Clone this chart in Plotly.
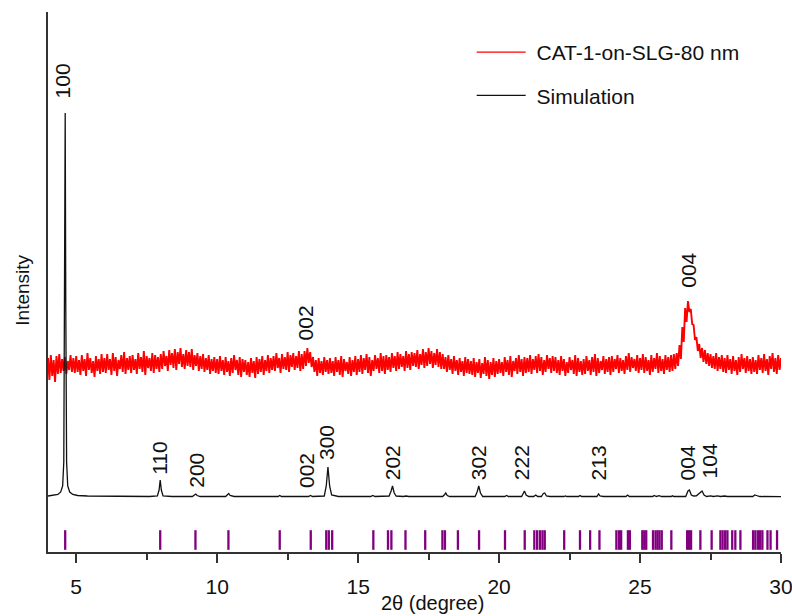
import numpy as np
import plotly.graph_objects as go

# ---------------- data ----------------
# Measured film (CAT-1-on-SLG-80 nm), 4.0-30.0 deg.
# The noisy scan is read as alternating high / low readings:
# red_high at 4.00, 4.10, 4.20 ... and red_low at 4.05, 4.15, 4.25 ... (a.u.)
red_start, red_step = 4.0, 0.1
red_high = [
    194, 197, 192, 196, 198, 193, 195, 191, 197, 194,
    196, 192, 197, 193, 199, 194, 191, 196, 193, 198,
    194, 198, 193, 199, 195, 192, 197, 200, 194, 196,
    197, 193, 199, 195, 201, 196, 194, 199, 197, 195,
    198, 201, 196, 202, 199, 203, 200, 204, 198, 202,
    200, 203, 197, 199, 196, 198, 194, 197, 193, 195,
    193, 196, 192, 195, 191, 194, 197, 192, 195, 193,
    192, 190, 194, 191, 195, 193, 196, 192, 197, 194,
    196, 199, 194, 198, 195, 200, 197, 199, 196, 201,
    198, 201, 204, 200, 195, 192, 194, 191, 195, 192,
    194, 191, 195, 192, 196, 193, 190, 195, 192, 196,
    193, 197, 194, 198, 195, 192, 197, 194, 199, 196,
    197, 195, 199, 196, 200, 198, 196, 201, 198, 200,
    199, 202, 198, 203, 200, 204, 201, 199, 203, 200,
    198, 195, 197, 193, 196, 192, 194, 191, 195, 193,
    191, 194, 190, 193, 189, 195, 192, 190, 194, 191,
    193, 190, 195, 192, 196, 191, 194, 197, 193, 195,
    194, 197, 193, 196, 198, 195, 192, 197, 194, 196,
    195, 192, 196, 193, 190, 195, 192, 197, 194, 191,
    193, 196, 192, 195, 198, 194, 191, 196, 193, 195,
    196, 193, 197, 194, 192, 196, 199, 195, 193, 197,
    194, 198, 195, 192, 197, 194, 199, 196, 193, 197,
    195, 197, 198, 199, 207, 225, 244, 251, 243, 227,
    215, 208, 204, 202, 199, 198, 196, 199, 195, 197,
    194, 197, 193, 196, 192, 195, 198, 194, 196, 193,
    195, 192, 197, 194, 198, 193, 196, 199, 194, 197,
    194,
]
red_low = [
    172, 176, 170, 178, 179, 181, 178, 182, 180, 179,
    180, 177, 181, 176, 182, 179, 175, 181, 178, 180,
    179, 182, 177, 181, 176, 183, 180, 178, 182, 179,
    182, 178, 183, 180, 177, 184, 181, 179, 183, 180,
    183, 186, 181, 187, 184, 182, 188, 185, 183, 186,
    185, 182, 186, 181, 183, 180, 182, 178, 181, 179,
    178, 181, 177, 180, 176, 179, 182, 177, 175, 180,
    177, 175, 179, 174, 178, 180, 177, 181, 179, 182,
    181, 184, 179, 183, 182, 180, 185, 182, 184, 181,
    183, 186, 189, 185, 180, 176, 179, 177, 180, 178,
    179, 176, 180, 177, 175, 181, 178, 176, 180, 177,
    180, 178, 182, 179, 176, 181, 183, 179, 181, 178,
    182, 180, 184, 181, 183, 185, 181, 184, 182, 186,
    185, 183, 187, 184, 186, 188, 184, 187, 185, 183,
    183, 180, 182, 178, 181, 177, 180, 176, 179, 178,
    177, 175, 179, 174, 178, 176, 173, 177, 175, 178,
    179, 176, 180, 177, 175, 181, 178, 180, 176, 179,
    180, 178, 182, 179, 181, 177, 180, 183, 179, 181,
    179, 177, 181, 176, 179, 182, 178, 176, 180, 177,
    178, 181, 177, 180, 176, 179, 182, 178, 180, 177,
    180, 183, 179, 181, 178, 182, 180, 184, 181, 179,
    182, 179, 181, 177, 180, 183, 179, 181, 178, 182,
    180, 181, 183, 186, 193, 210, 230, 240, 228, 212,
    201, 194, 190, 188, 186, 184, 183, 181, 183, 180,
    179, 182, 178, 181, 177, 180, 183, 179, 181, 178,
    180, 178, 182, 179, 181, 177, 183, 180, 178, 182,
    180,
]

# Simulated pattern (a.u.)
sim_x = [4.0, 4.2, 4.35, 4.45, 4.52, 4.56, 4.59, 4.61, 4.63, 4.66, 4.70, 4.77, 4.88, 5.05, 5.4,
         6.5, 7.6, 7.88, 7.94, 7.98, 8.02, 8.08, 8.4, 9.12, 9.2, 9.24, 9.29, 9.4,
         10.3, 10.37, 10.41, 10.46, 10.6, 12.16, 12.22, 12.28, 13.24, 13.31, 13.38,
         13.8, 13.87, 13.93, 13.99, 14.06, 14.3, 15.45, 15.52, 15.6, 16.1, 16.17, 16.22,
         16.28, 16.35, 16.6, 16.7, 16.8, 18.0, 18.07, 18.11, 18.16, 18.25, 19.15, 19.22,
         19.28, 19.34, 19.42, 20.2, 20.27, 20.33, 20.8, 20.86, 20.9, 20.96, 21.05, 21.23,
         21.3, 21.37, 21.5, 21.57, 21.62, 21.68, 21.8, 22.3, 22.35, 22.4, 22.82, 22.87,
         22.93, 23.47, 23.53, 23.58, 23.7, 24.5, 24.56, 24.62, 25.45, 25.5, 25.58, 25.68,
         25.76, 26.1, 26.15, 26.2, 26.62, 26.7, 26.75, 26.82, 26.9, 27.0, 27.12, 27.2,
         27.27, 27.36, 27.5, 27.6, 27.75, 27.85, 28.0, 28.1, 29.0, 29.07, 29.13, 29.25, 30.0]
sim_y = [56, 56.5, 57.5, 60, 66, 90, 250, 439, 250, 90, 66, 60, 57.5, 56.5, 56,
         55.5, 55.5, 56, 62, 72, 62, 56, 55.5, 55.5, 57, 58, 56.5, 55.5,
         55.5, 57, 58.5, 56.5, 55.5, 55.5, 56.5, 55.5, 55.5, 56.5, 55.5,
         56, 66, 85, 66, 57, 55.5, 55.5, 56.5, 55.5, 56, 61, 66,
         59, 56, 55.5, 56, 55.5, 55.5, 57.5, 59, 56.5, 55.5, 55.5, 60,
         66, 59, 55.5, 55.5, 56.5, 55.5, 55.5, 59, 61, 57, 55.5, 55.5,
         57, 55.5, 55.5, 58.5, 59, 56, 55.5, 55.5, 56, 55.5, 55.5, 56.5,
         55.5, 55.5, 58, 56, 55.5, 55.5, 57, 55.5, 55.5, 56.5, 55.5, 56.3,
         55.5, 55.5, 56.2, 55.5, 55.5, 61, 62, 57, 56, 56.2, 59, 61,
         57, 55.5, 56.2, 55.5, 56.2, 55.5, 56, 55.5, 55.5, 57, 56.5, 55.5, 55.3]

# Reference reflection positions (deg)
ref_pos = [4.61, 7.98, 9.23, 10.40, 12.22, 13.32, 13.87, 13.96, 14.08, 15.54, 16.06, 16.18,
           16.68, 17.38, 17.99, 18.08, 18.54, 19.29, 20.21, 20.91, 21.25, 21.35, 21.45,
           21.54, 21.62, 22.31, 22.87, 23.23, 23.56, 24.16, 24.25, 24.33, 24.57, 24.64,
           25.08, 25.15, 25.22, 25.46, 25.55, 25.62, 25.69, 25.77, 26.11, 26.67, 26.74,
           26.81, 27.14, 27.54, 27.85, 27.93, 28.02, 28.10, 28.27, 28.38, 28.56, 29.01,
           29.09, 29.18, 29.26, 29.34, 29.52, 29.63, 29.86]
ref_level = 12

# Peak labels: (text, x, y of label bottom)
sim_labels = ["100", "110", "200", "002", "300", "202", "302", "222", "213", "004", "104"]
sim_label_x = [4.53, 7.95, 9.26, 13.17, 13.88, 16.23, 19.28, 20.8, 23.54, 26.7, 27.48]
sim_label_y = [452, 75, 62, 62, 90, 70, 70, 70, 70, 70, 72]
film_labels = ["002", "004"]
film_label_x = [13.15, 26.71]
film_label_y = [210, 262]

FONT = "Liberation Sans, Arial, sans-serif"
RED = "#ff0000"
PURPLE = "#800080"
NB = "\u00a0"

# interleave high / low readings into one scan
red_x, red_y = [], []
for k, (hi, lo) in enumerate(zip(red_high, red_low)):
    x0 = round(red_start + red_step * k, 3)
    red_x.append(x0)
    red_y.append(hi)
    if k < len(red_high) - 1:
        red_x.append(round(x0 + red_step / 2, 3))
        red_y.append(lo)

fig = go.Figure()
# legend entry for the film (thin line like the reference legend)
fig.add_trace(go.Scatter(x=[None], y=[None], mode="lines", name=NB + "CAT-1-on-SLG-80 nm",
                         line=dict(color=RED, width=1.3), legendgroup="a"))
fig.add_trace(go.Scatter(x=red_x, y=red_y, mode="lines", name="CAT-1-on-SLG-80 nm",
                         line=dict(color=RED, width=1.9), legendgroup="a",
                         showlegend=False))
fig.add_trace(go.Scatter(x=sim_x, y=sim_y, mode="lines", name=NB + "Simulation",
                         line=dict(color="#111111", width=1.3), legendgroup="b"))
fig.add_trace(go.Scatter(x=ref_pos, y=[ref_level] * len(ref_pos), mode="markers",
                         marker=dict(symbol="line-ns", size=14,
                                     line=dict(color=PURPLE, width=2.3)),
                         showlegend=False))

for t, x, y in zip(sim_labels + film_labels, sim_label_x + film_label_x,
                   sim_label_y + film_label_y):
    fig.add_annotation(x=x, y=y, text=t, textangle=-90, showarrow=False,
                       xanchor="center", yanchor="bottom",
                       font=dict(family=FONT, size=21, color="#111111"))

fig.add_annotation(xref="paper", yref="paper", x=0.524, y=-0.094, text="2θ (degree)",
                   showarrow=False, xanchor="center", yanchor="middle",
                   font=dict(family=FONT, size=20, color="#111111"))
fig.add_annotation(xref="paper", yref="paper", x=-0.036, y=0.485, text="Intensity",
                   showarrow=False, xanchor="center", yanchor="middle", textangle=-90,
                   font=dict(family=FONT, size=19, color="#111111"))

fig.update_layout(
    width=792, height=616,
    margin=dict(l=48, r=11, t=12, b=64, autoexpand=False),
    paper_bgcolor="white", plot_bgcolor="white",
    font=dict(family=FONT, size=20, color="#111111"),
    legend=dict(x=0.578, y=0.963, xanchor="left", yanchor="top",
                bgcolor="rgba(0,0,0,0)", itemwidth=49, tracegroupgap=13,
                font=dict(size=21)),
)
fig.update_xaxes(range=[4, 30], showline=True, linecolor="#333333", linewidth=1.5,
                 showgrid=False, zeroline=False, ticks="outside", ticklen=9,
                 tickwidth=1.5, tickcolor="#333333", dtick=5, tick0=0,
                 ticklabelstandoff=6, ticklabeloverflow="allow", automargin=False,
                 tickfont=dict(size=21, family=FONT, color="#111111"),
                 minor=dict(ticks="outside", ticklen=6, dtick=2.5, tick0=0,
                            tickwidth=1.5, tickcolor="#333333"))
fig.update_yaxes(range=[0, 540], showline=True, linecolor="#333333", linewidth=1.5,
                 showgrid=False, zeroline=False, ticks="", showticklabels=False,
                 automargin=False)

fig.write_html("out.html")
